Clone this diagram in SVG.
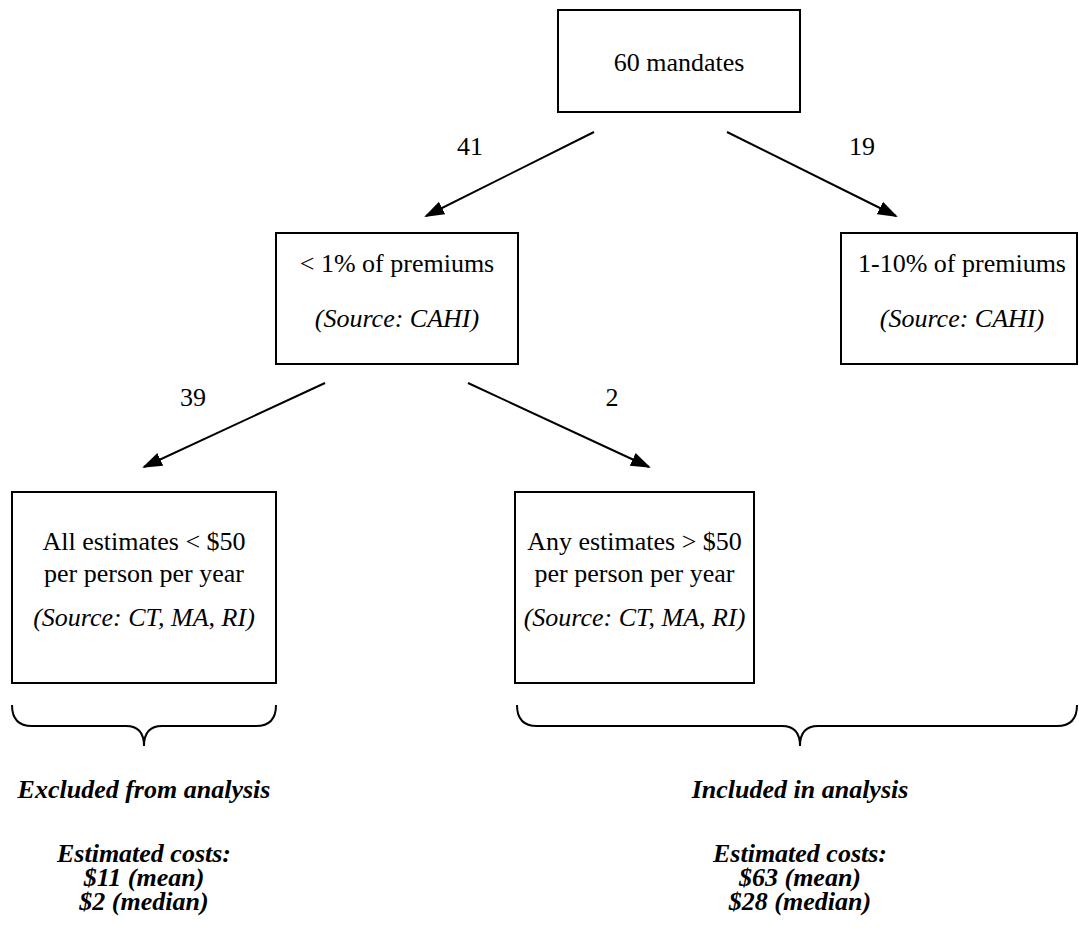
<svg xmlns="http://www.w3.org/2000/svg" width="1079" height="934" viewBox="0 0 1079 934">
<style>
.box{fill:#fff;stroke:#000;stroke-width:2}
.t{font-family:"Liberation Serif","Times New Roman",serif;font-size:26px;fill:#000;text-anchor:middle}
.i{font-style:italic}
.b{font-style:italic;font-weight:bold}
.c{stroke:#000;stroke-width:2;fill:none}
</style>
<defs>
<marker id="ah" markerWidth="20" markerHeight="14" refX="18" refY="7" orient="auto" markerUnits="userSpaceOnUse">
<path d="M0,0 L20,7 L0,14 Z" fill="#000"/>
</marker>
</defs>
<rect width="1079" height="934" fill="#fff"/>
<g id="connectors">
<line class="c" x1="594" y1="132" x2="426" y2="216" marker-end="url(#ah)"/>
<line class="c" x1="727" y1="132" x2="896" y2="216" marker-end="url(#ah)"/>
<line class="c" x1="325" y1="383" x2="144" y2="467" marker-end="url(#ah)"/>
<line class="c" x1="468" y1="383" x2="649" y2="467" marker-end="url(#ah)"/>
<text class="t" x="470" y="155">41</text>
<text class="t" x="862" y="155">19</text>
<text class="t" x="193" y="406">39</text>
<text class="t" x="612" y="406">2</text>
</g>
<g id="n-root">
<rect class="box" x="558" y="10" width="242" height="102"/>
<text class="t" x="679" y="71">60 mandates</text>
</g>
<g id="n-lt1">
<rect class="box" x="276" y="233" width="242" height="131"/>
<text class="t" x="397" y="272">&lt; 1% of premiums</text>
<text class="t i" x="397" y="327">(Source: CAHI)</text>
</g>
<g id="n-1to10">
<rect class="box" x="841" y="233" width="236" height="131"/>
<text class="t" x="962" y="272">1-10% of premiums</text>
<text class="t i" x="962" y="327">(Source: CAHI)</text>
</g>
<g id="n-all">
<rect class="box" x="12" y="492" width="264" height="191"/>
<text class="t" x="144" y="550">All estimates &lt; $50</text>
<text class="t" x="144" y="582">per person per year</text>
<text class="t i" x="144" y="626">(Source: CT, MA, RI)</text>
</g>
<g id="n-any">
<rect class="box" x="515" y="492" width="239" height="191"/>
<text class="t" x="634.5" y="550">Any estimates &gt; $50</text>
<text class="t" x="634.5" y="582">per person per year</text>
<text class="t i" x="634.5" y="626">(Source: CT, MA, RI)</text>
</g>
<g id="brace-excluded">
<path class="c" d="M12,705 Q12,726 32,726 H126 Q144,726 144,746 Q144,726 162,726 H256 Q276,726 276,705"/>
<text class="t b" x="144" y="798">Excluded from analysis</text>
<text class="t b" x="144" y="862">Estimated costs:</text>
<text class="t b" x="144" y="886">$11 (mean)</text>
<text class="t b" x="144" y="910">$2 (median)</text>
</g>
<g id="brace-included">
<path class="c" d="M517,705 Q517,726 537,726 H782 Q800,726 800,746 Q800,726 818,726 H1057 Q1077,726 1077,705"/>
<text class="t b" x="800" y="798">Included in analysis</text>
<text class="t b" x="800" y="862">Estimated costs:</text>
<text class="t b" x="800" y="886">$63 (mean)</text>
<text class="t b" x="800" y="910">$28 (median)</text>
</g>
</svg>
